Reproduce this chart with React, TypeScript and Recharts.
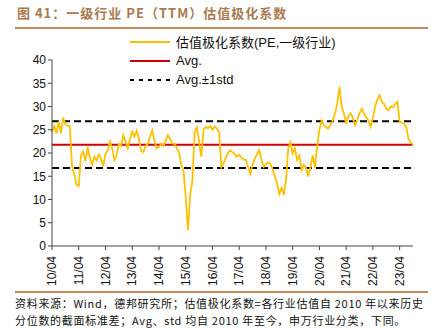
import React from "react";
import {
  LineChart,
  Line,
  XAxis,
  YAxis,
  ReferenceLine,
} from "recharts";

// 估值极化系数, monthly from 2010/04 to 2023/10
const VALUES = [
  24.5, 25.8, 24.2, 26.8, 24.3, 27.6, 26.2, 25.9, 25.8, 17.0,
  15.5, 13.2, 12.9, 19.5, 20.3, 18.2, 21.3, 19.0, 17.5, 19.2,
  18.4, 19.6, 18.8, 17.2, 19.8, 20.5, 22.5, 21.0, 18.5, 19.5,
  22.0, 21.5, 23.8, 22.5, 21.0, 23.0, 24.6, 23.5, 24.8, 23.0,
  20.5, 20.2, 21.5, 22.0, 23.5, 24.9, 22.5, 21.0, 21.3, 22.0,
  21.5, 22.6, 23.8, 23.0, 22.0, 22.0, 21.0, 20.2, 17.5, 16.3,
  10.5, 3.4, 11.0, 14.0, 24.5, 25.5, 22.5, 19.2, 25.0, 25.6,
  25.3, 25.8, 25.0, 25.7, 25.2, 24.5, 17.0, 17.8, 19.0, 20.0,
  20.6, 20.2, 19.8, 19.2, 19.6, 19.0, 18.6, 18.5, 17.0, 15.5,
  17.5, 18.8, 19.8, 20.6, 18.5, 17.0, 17.6, 18.0, 17.7, 16.5,
  15.0, 13.5, 11.2, 12.5, 11.0, 14.2, 21.0, 22.3, 19.9, 21.0,
  18.5, 19.5, 16.3, 17.5, 16.8, 15.0, 17.0, 19.5, 16.8, 21.5,
  25.0, 27.0, 26.0, 25.5, 25.3, 26.0, 27.0, 28.5, 30.6, 34.2,
  30.0, 28.5, 26.3, 28.0, 28.5, 27.5, 26.0, 27.2, 28.5, 29.5,
  28.5, 27.7, 27.0, 25.6, 27.5, 30.0, 31.5, 32.4, 31.0, 30.6,
  29.5, 29.2, 30.0, 29.8, 30.5, 31.0, 26.8, 26.5, 26.3, 25.5,
  23.0, 22.2, 21.8,
];

const AVG = 21.8;
const UPPER = 26.85;
const LOWER = 16.75;
const Y_TICKS = [0, 5, 10, 15, 20, 25, 30, 35, 40];

const LEGEND_ITEMS = [
  { label: "估值极化系数(PE,一级行业)", color: "#FFC000", dash: "" },
  { label: "Avg.", color: "#D00000", dash: "" },
  { label: "Avg.±1std", color: "#000000", dash: "4 5" },
];

// category labels yy/mm starting 2010/04
const data = VALUES.map((v, i) => {
  const m = 3 + i;
  const yy = 10 + Math.floor(m / 12);
  const mm = (m % 12) + 1;
  return { date: `${yy}/${String(mm).padStart(2, "0")}`, value: v };
});

const XTick = (props: any) => {
  const { x, y, payload } = props;
  return (
    <text
      x={x}
      y={y + 4}
      transform={`rotate(-90 ${x} ${y + 4})`}
      textAnchor="end"
      dy="0.35em"
      fontSize={12}
      fill="#111"
      fontFamily="'Liberation Sans', Arial, sans-serif"
    >
      {payload.value}
    </text>
  );
};

const LegendBox = () => (
  <div
    style={{
      position: "absolute",
      left: 128,
      top: 32,
      fontFamily: "'Liberation Sans', 'Noto Sans CJK SC', sans-serif",
      fontSize: 13,
    }}
  >
    {LEGEND_ITEMS.map((it) => (
      <div key={it.label} style={{ display: "flex", alignItems: "center", height: 19 }}>
        <svg width={44} height={10}>
          <line x1={2} y1={5} x2={42} y2={5} stroke={it.color} strokeWidth={2} strokeDasharray={it.dash} />
        </svg>
        <span style={{ marginLeft: 4, color: "#111", whiteSpace: "nowrap" }}>{it.label}</span>
      </div>
    ))}
  </div>
);

export default function App() {
  return (
    <div style={{ position: "absolute", left: 0, top: 0, width: 432, height: 328, background: "#fff" }}>
      <div
        style={{
          position: "absolute",
          left: 17,
          top: 3,
          fontFamily: "'Noto Sans CJK SC', sans-serif",
          fontWeight: 700,
          fontSize: 13,
          letterSpacing: 1,
          color: "#a87a50",
          whiteSpace: "nowrap",
        }}
      >
        图 41：一级行业 PE（TTM）估值极化系数
      </div>
      <div style={{ position: "absolute", left: 15, top: 27, width: 413, height: 2, background: "#c08a5a" }} />
      <LineChart
        width={432}
        height={328}
        data={data}
        margin={{ top: 60, right: 19, left: 0, bottom: 42 }}
      >
        <XAxis
          dataKey="date"
          interval={11}
          tick={<XTick />}
          tickSize={4}
          height={40}
          stroke="#444"
        />
        <YAxis
          domain={[0, 40]}
          ticks={Y_TICKS}
          width={52}
          tickSize={4}
          stroke="#444"
          tick={{ fontSize: 12, fill: "#111", fontFamily: "'Liberation Sans', Arial, sans-serif" }}
        />
        <ReferenceLine y={UPPER} stroke="#000" strokeWidth={2} strokeDasharray="7 4" />
        <ReferenceLine y={LOWER} stroke="#000" strokeWidth={2} strokeDasharray="7 4" />
        <ReferenceLine y={AVG} stroke="#D00000" strokeWidth={2} />
        <Line
          type="linear"
          dataKey="value"
          stroke="#FFC000"
          strokeWidth={1.8}
          dot={false}
          isAnimationActive={false}
        />
      </LineChart>
      <LegendBox />
      <div style={{ position: "absolute", left: 15, top: 291, width: 413, height: 2, background: "#c08a5a" }} />
      <div
        style={{
          position: "absolute",
          left: 15,
          top: 295,
          fontFamily: "'Noto Sans CJK SC', sans-serif",
          fontSize: 11,
          lineHeight: "17px",
          letterSpacing: 0.7,
          color: "#111",
          whiteSpace: "nowrap",
        }}
      >
        <div>资料来源：Wind，德邦研究所；估值极化系数=各行业估值自 2010 年以来历史</div>
        <div>分位数的截面标准差；Avg、std 均自 2010 年至今，申万行业分类，下同。</div>
      </div>
    </div>
  );
}
